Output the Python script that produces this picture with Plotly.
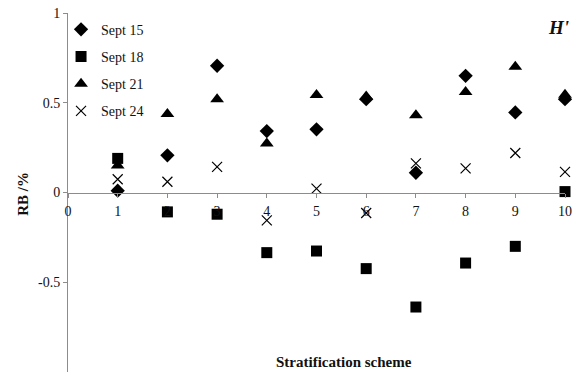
import plotly.graph_objects as go

schemes = [1, 2, 3, 4, 5, 6, 7, 8, 9, 10]
sept15 = [0.01, 0.207, 0.706, 0.342, 0.352, 0.52, 0.11, 0.65, 0.446, 0.52]
sept18 = [0.19, -0.108, -0.121, -0.335, -0.326, -0.424, -0.638, -0.393, -0.30, 0.005]
sept21 = [0.15, 0.437, 0.52, 0.273, 0.543, 0.535, 0.43, 0.56, 0.70, 0.545]
sept24 = [0.074, 0.06, 0.143, -0.155, 0.022, -0.114, 0.162, 0.134, 0.22, 0.115]

x_ticks = [0, 1, 2, 3, 4, 5, 6, 7, 8, 9, 10]
y_ticks = [-1, -0.5, 0, 0.5, 1]
y_ticktext = ["-1", "-0.5", "0", "0.5", "1"]

FONT = "Liberation Serif"
TXT = "#111111"

series = [
    ("Sept 15", sept15, dict(symbol="diamond", size=11, color="black")),
    ("Sept 18", sept18, dict(symbol="square", size=11, color="black")),
    ("Sept 21", sept21, dict(symbol="triangle-up", size=12, color="black")),
    ("Sept 24", sept24, dict(symbol="x-thin", size=10, color="black",
                             line=dict(color="black", width=1.2))),
]

fig = go.Figure()
for i, (name, vals, mk) in enumerate(series):
    fig.add_trace(go.Scatter(
        x=schemes, y=vals, mode="markers", name=name, marker=mk,
        cliponaxis=False, legendgroup=f"g{i}",
    ))

fig.update_layout(
    template="none",
    width=577, height=372,
    margin=dict(l=68, r=12, t=13, b=0, autoexpand=False),
    paper_bgcolor="white", plot_bgcolor="white",
    font=dict(family=FONT, size=14, color=TXT),
    showlegend=True,
    legend=dict(x=-0.014, y=0.998, xanchor="left", yanchor="top",
                bgcolor="rgba(0,0,0,0)", font=dict(family=FONT, size=14, color=TXT),
                tracegroupgap=6),
    xaxis=dict(range=[0, 10], tickvals=x_ticks, showline=True, linecolor="#8c8c8c",
               linewidth=1, ticks="outside", ticklen=4, tickcolor="#8c8c8c",
               showgrid=False, zeroline=False, anchor="free", position=0.5,
               ticklabelstandoff=2, tickfont=dict(family=FONT, size=14, color=TXT)),
    yaxis=dict(range=[-1, 1], tickvals=y_ticks, ticktext=y_ticktext, showline=True,
               linecolor="#8c8c8c", linewidth=1, ticks="outside", ticklen=4,
               tickcolor="#8c8c8c", showgrid=False, zeroline=False,
               tickfont=dict(family=FONT, size=14, color=TXT)),
    annotations=[
        dict(text="<b>Stratification scheme</b>", xref="paper", yref="paper",
             x=0.555, y=0.028, xanchor="center", yanchor="middle", showarrow=False,
             font=dict(family=FONT, size=15, color=TXT)),
        dict(text="<b>RB /%</b>", xref="paper", yref="paper", x=-0.092, y=0.497,
             xanchor="center", yanchor="middle", textangle=-90, showarrow=False,
             font=dict(family=FONT, size=15, color=TXT)),
        dict(text="<b><i>H'</i></b>", xref="paper", yref="paper", x=0.986, y=0.961,
             xanchor="center", yanchor="middle", showarrow=False,
             font=dict(family=FONT, size=19, color=TXT)),
    ],
)

fig.write_html("out.html", config={"displayModeBar": False},
               post_script="document.body.style.margin='0';document.body.style.overflow='hidden';")
